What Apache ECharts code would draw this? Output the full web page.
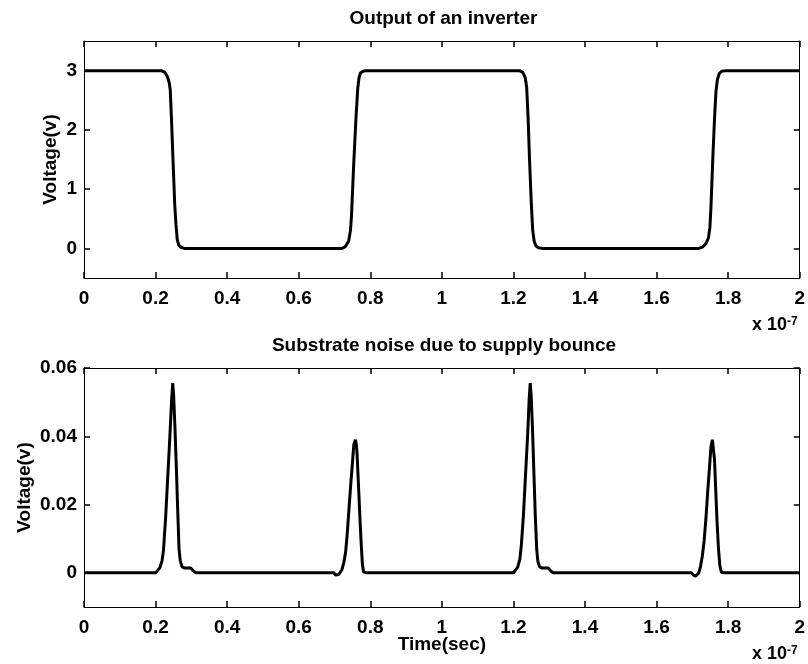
<!DOCTYPE html>
<html>
<head>
<meta charset="utf-8">
<script src="https://cdn.jsdelivr.net/npm/echarts@6/dist/echarts.min.js"></script>
<style>
html,body{margin:0;padding:0;background:#fff;}
#main{width:808px;height:664px;}
</style>
</head>
<body>
<div id="main"></div>
<script>
/* time axis is in units of 1e-7 s */
var xTicks = [0, 0.2, 0.4, 0.6, 0.8, 1, 1.2, 1.4, 1.6, 1.8, 2];
var topYTicks = [0, 1, 2, 3];
var botYTicks = [0, 0.02, 0.04, 0.06];

/* inverter output */
var invTime = [0, 0.2, 0.216, 0.226, 0.233, 0.238, 0.241, 0.245, 0.249, 0.2535, 0.257, 0.2605, 0.265, 0.272, 0.281, 0.3,
	0.7, 0.721, 0.73, 0.7396, 0.7445, 0.7475, 0.7535, 0.76, 0.765, 0.7685, 0.7725, 0.78, 0.786, 0.8,
	1.2, 1.217, 1.226, 1.233, 1.237, 1.241, 1.245, 1.25, 1.254, 1.258, 1.263, 1.27, 1.28, 1.3,
	1.7, 1.718, 1.728, 1.738, 1.745, 1.749, 1.752, 1.757, 1.762, 1.766, 1.77, 1.775, 1.782, 1.795, 2];
var invVolt = [3, 3, 3, 2.97, 2.9, 2.8, 2.68, 2.1, 1.45, 0.74, 0.4, 0.15, 0.05, 0.015, 0, 0,
	0, 0, 0.03, 0.12, 0.3, 0.55, 1.4, 2.2, 2.7, 2.88, 2.96, 2.99, 3, 3,
	3, 3, 2.97, 2.88, 2.72, 2.2, 1.5, 0.75, 0.3, 0.12, 0.04, 0.01, 0, 0,
	0, 0, 0.02, 0.08, 0.18, 0.35, 0.7, 1.5, 2.2, 2.65, 2.85, 2.95, 2.99, 3, 3];

/* substrate noise, one small list per spike */
var spike1T = [0, 0.2, 0.205, 0.212, 0.218, 0.222, 0.228, 0.234, 0.24, 0.245, 0.248, 0.2505, 0.254, 0.258, 0.262, 0.2655, 0.269, 0.274, 0.28, 0.298, 0.305, 0.313, 0.5];
var spike1V = [0, 0, 0.0004, 0.0015, 0.0035, 0.0065, 0.016, 0.028, 0.04, 0.051, 0.0556, 0.052, 0.043, 0.031, 0.018, 0.007, 0.0035, 0.0018, 0.0014, 0.0014, 0.0006, 0, 0];
var spike2T = [0.698, 0.703, 0.7075, 0.712, 0.716, 0.721, 0.726, 0.731, 0.735, 0.74, 0.745, 0.75, 0.754, 0.7585, 0.761, 0.763, 0.766, 0.768, 0.772, 0.775, 0.778, 0.781, 0.785, 0.79, 1];
var spike2V = [0, -0.0006, -0.001, -0.0005, 0, 0.001, 0.003, 0.006, 0.0107, 0.018, 0.0254, 0.032, 0.0376, 0.039, 0.0375, 0.035, 0.028, 0.0234, 0.014, 0.0078, 0.0025, 0.0003, -0.0002, 0, 0];
var spike3T = [1.2, 1.205, 1.212, 1.218, 1.222, 1.228, 1.234, 1.24, 1.244, 1.247, 1.2495, 1.253, 1.257, 1.261, 1.265, 1.268, 1.273, 1.28, 1.298, 1.304, 1.311, 1.5];
var spike3V = [0, 0.0005, 0.0017, 0.004, 0.008, 0.017, 0.029, 0.041, 0.051, 0.0556, 0.052, 0.043, 0.03, 0.017, 0.007, 0.0035, 0.0018, 0.0014, 0.0014, 0.0006, 0, 0];
var spike4T = [1.697, 1.703, 1.709, 1.714, 1.718, 1.723, 1.728, 1.733, 1.738, 1.743, 1.748, 1.752, 1.756, 1.759, 1.762, 1.765, 1.769, 1.773, 1.777, 1.781, 1.785, 1.79, 2];
var spike4V = [0, -0.0006, -0.001, -0.0006, 0, 0.002, 0.005, 0.0095, 0.016, 0.024, 0.031, 0.037, 0.039, 0.0385, 0.033, 0.025, 0.015, 0.007, 0.002, 0.0002, -0.0003, 0, 0];

function pairs(xs, ys){
	var out = [];
	for(var i = 0;i<xs.length;i++){
		out.push([xs[i], ys[i]]);
	}
	return out;
}
var noiseData = pairs(spike1T, spike1V).concat(pairs(spike2T, spike2V), pairs(spike3T, spike3V), pairs(spike4T, spike4V));

var fnt = 'Liberation Sans, Arial, Helvetica, sans-serif';
var lineStyle = {color:'#000', width:1};
var tickStyle = {color:'#000', width:1.5};

function xAx(grid, pos, showLabel, name){
	return {
		type:'value', gridIndex:grid, position:pos, min:0, max:2, interval:0.2,
		name: name || '', nameLocation:'middle', nameGap:28, nameMoveOverlap:false,
		nameTextStyle:{color:'#000', fontFamily:fnt, fontWeight:'bold', fontSize:19},
		axisLine:{show:true, onZero:false, lineStyle:lineStyle},
		axisTick:{show:true, inside:true, length:6, customValues:xTicks, lineStyle:tickStyle},
		axisLabel:{show:showLabel, color:'#000', fontFamily:fnt, fontWeight:'bold', fontSize:19, margin:11},
		splitLine:{show:false}
	};
}
function yAx(grid, pos, showLabel, mn, mx, ticks){
	return {
		type:'value', gridIndex:grid, position:pos, min:mn, max:mx,
		name: showLabel ? 'Voltage(v)' : '', nameLocation:'middle', nameGap: grid === 0 ? 24 : 50, nameMoveOverlap:false,
		nameTextStyle:{color:'#000', fontFamily:fnt, fontWeight:'bold', fontSize:19},
		axisLine:{show:true, onZero:false, lineStyle:lineStyle},
		axisTick:{show:true, inside:true, length:6, customValues:ticks, lineStyle:tickStyle},
		axisLabel:{show:showLabel, customValues:ticks, color:'#000', fontFamily:fnt, fontWeight:'bold', fontSize:19, margin:7},
		splitLine:{show:false}
	};
}
var expRich = {
	a:{fill:'#000', font:'bold 18px ' + fnt, verticalAlign:'bottom'},
	b:{fill:'#000', font:'bold 12px ' + fnt, verticalAlign:'top'}
};

var myChart = echarts.init(document.getElementById('main'), null, {renderer:'canvas'});
var option = {
	backgroundColor:'#fff',
	animation:false,
	grid:[
		{left:84, top:41, width:719, height:237},
		{left:84, top:368, width:719, height:239}
	],
	xAxis:[
		xAx(0, 'bottom', true),
		xAx(0, 'top', false),
		xAx(1, 'bottom', true, 'Time(sec)'),
		xAx(1, 'top', false)
	],
	yAxis:[
		yAx(0, 'left', true, -0.5, 3.5, topYTicks),
		yAx(0, 'right', false, -0.5, 3.5, topYTicks),
		yAx(1, 'left', true, -0.01, 0.06, botYTicks),
		yAx(1, 'right', false, -0.01, 0.06, botYTicks)
	],
	graphic:[
		{type:'text', x:443.5, y:19, style:{text:'Output of an inverter', fill:'#000', font:'bold 19px ' + fnt, align:'center', verticalAlign:'middle'}},
		{type:'text', x:444, y:346, style:{text:'Substrate noise due to supply bounce', fill:'#000', font:'bold 19px ' + fnt, align:'center', verticalAlign:'middle'}},
		{type:'text', left:752, top:316, style:{text:'{a|x 10}{b|-7}', rich:expRich}},
		{type:'text', left:752, top:645, style:{text:'{a|x 10}{b|-7}', rich:expRich}}
	],
	series:[
		{
			type:'line', xAxisIndex:0, yAxisIndex:0, showSymbol:false,
			lineStyle:{color:'#000', width:3}, data:pairs(invTime, invVolt)
		},
		{
			type:'line', xAxisIndex:2, yAxisIndex:2, showSymbol:false,
			lineStyle:{color:'#000', width:3}, data:noiseData
		}
	]
};
myChart.setOption(option);
</script>
</body>
</html>
